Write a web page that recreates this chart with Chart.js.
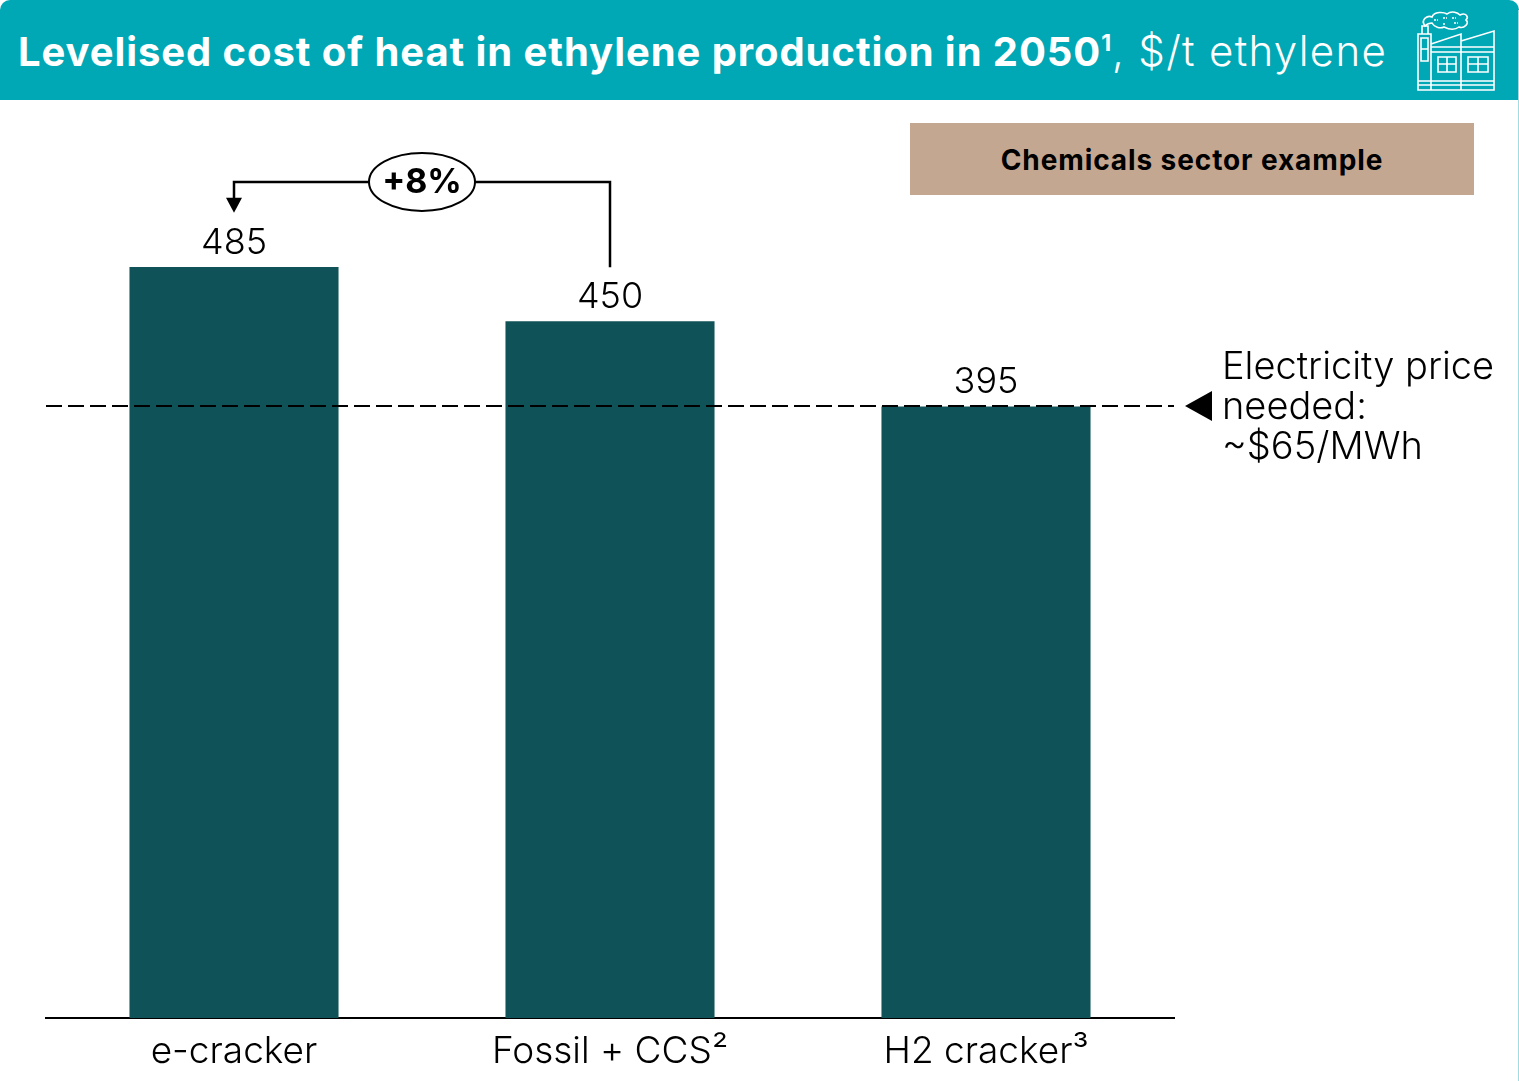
<!DOCTYPE html>
<html lang="en">
<head>
<meta charset="utf-8">
<title>Levelised cost of heat in ethylene production</title>
<script src="https://cdn.jsdelivr.net/npm/chart.js@4"></script>
<style>
    html, body { margin: 0; padding: 0; background: #fff; }
    body { width: 1519px; height: 1081px; position: relative; overflow: hidden; font-family: Inter, sans-serif; color: #000; }
    #chart { position: absolute; left: 0; top: 0; }
    #header { position: absolute; left: 0; top: 0; width: 1519px; height: 100px; background: #00a8b5; border-radius: 10px 10px 0 0; }
    #title { position: absolute; left: 18px; top: 24px; font-size: 42px; line-height: 54px; color: #fff; font-weight: 300; white-space: nowrap; letter-spacing: 1.3px; }
    #title b { font-weight: 700; font-size: 40px; letter-spacing: 0.92px; }
    #title sup { font-size: 23px; line-height: 0; vertical-align: 15px; }
    #icon { position: absolute; left: 1416px; top: 9px; }
    #tag { position: absolute; left: 910px; top: 123px; width: 564px; height: 72px; background: #c4a790; text-align: center; line-height: 75px; font-size: 28px; font-weight: 700; letter-spacing: 0.9px; }
    #note { position: absolute; left: 1222px; top: 345px; font-size: 38px; line-height: 40px; font-weight: 300; white-space: nowrap; }
    #edge { position: absolute; right: 0; top: 10px; width: 1px; height: 1071px; background: #9fdde2; }
</style>
</head>
<body>
<canvas id="chart" width="1519" height="1081"></canvas>
<div id="header">
    <div id="title"><b>Levelised cost of heat in ethylene production in 2050<sup>1</sup></b>, $/t ethylene</div>
    <svg id="icon" width="80" height="82" viewBox="0 0 80 82" fill="none" stroke="#fff" stroke-width="1.6">
        <path d="M2 25H15V81H2Z M15 35L45 25V81H15 M45 32L78 22V81H45 M15 38H78 M15 43H78 M2 72H78 M2 76H78"/>
        <path d="M5 29H12V52H5Z M5 40H12 M6 25V17H12V25"/>
        <path d="M22 48H40V63H22Z M31 48V63 M22 55H40 M52 48H72V63H52Z M62 48V63 M52 55H72"/>
        <path d="M9 17C4 10 12 6 16 8C18 2 28 3 31 5C36 1 42 4 44 6C50 3 53 8 50 11C54 14 48 20 43 18C38 22 32 20 28 18C24 20 18 18 16 14C13 14 11 15 9 17Z"/>
        <path d="M18 11H22 M27 9H31 M36 9H40 M27 15H30 M38 14H42" stroke-dasharray="2 1"/>
    </svg>
</div>
<div id="tag">Chemicals sector example</div>
<div id="note">Electricity price<br>needed:<br>~$65/MWh</div>
<div id="edge"></div>
<script>
// Datos del gráfico
const categories = ['e-cracker', 'Fossil + CCS²', 'H2 cracker³'];
const costs = [485, 450, 395];
const referenceLine = 395;
const compareLevel = 540;
const compareArrowTip = 520;
const compareLabel = '+8%';

const BAR_COLOR = '#0f5257';
const INK = '#000000';
const LIGHT_FONT = '300 36px Inter, sans-serif';

// Etiquetas, línea discontinua y flecha de comparación
const annotations = {
    id: 'annotations',
    afterDatasetsDraw(chart) {
        const { ctx, scales: { x, y }, chartArea } = chart;
        const px = i => x.getPixelForValue(i);

        ctx.save();
        ctx.fillStyle = INK;
        ctx.font = LIGHT_FONT;
        ctx.textAlign = 'center';
        ctx.textBaseline = 'alphabetic';
        costs.forEach((v, i) => ctx.fillText(String(v), px(i), y.getPixelForValue(v) - 13));

        // Línea discontinua
        const lineY = Math.round(y.getPixelForValue(referenceLine));
        ctx.strokeStyle = INK;
        ctx.lineWidth = 2;
        ctx.setLineDash([16, 6]);
        ctx.beginPath();
        ctx.moveTo(chartArea.left, lineY);
        ctx.lineTo(chartArea.right, lineY);
        ctx.stroke();
        ctx.setLineDash([]);

        // Triángulo de la línea
        ctx.beginPath();
        ctx.moveTo(chartArea.right + 11, lineY);
        ctx.lineTo(chartArea.right + 38, lineY - 15);
        ctx.lineTo(chartArea.right + 38, lineY + 15);
        ctx.closePath();
        ctx.fill();

        // Flecha de comparación
        const levelY = y.getPixelForValue(compareLevel);
        const tipY = y.getPixelForValue(compareArrowTip);
        ctx.lineWidth = 2.5;
        ctx.beginPath();
        ctx.moveTo(px(1), y.getPixelForValue(costs[1]) - 54);
        ctx.lineTo(px(1), levelY);
        ctx.lineTo(px(0), levelY);
        ctx.lineTo(px(0), tipY - 14);
        ctx.stroke();
        ctx.beginPath();
        ctx.moveTo(px(0), tipY);
        ctx.lineTo(px(0) - 8, tipY - 15);
        ctx.lineTo(px(0) + 8, tipY - 15);
        ctx.closePath();
        ctx.fill();

        // Óvalo con el porcentaje
        const ovalX = (px(0) + px(1)) / 2;
        ctx.lineWidth = 2;
        ctx.beginPath();
        ctx.ellipse(ovalX, levelY, 53, 29, 0, 0, Math.PI * 2);
        ctx.fillStyle = '#fff';
        ctx.fill();
        ctx.stroke();
        ctx.fillStyle = INK;
        ctx.font = '700 34px Inter, sans-serif';
        ctx.textBaseline = 'middle';
        ctx.fillText(compareLabel, ovalX, levelY + 1);
        ctx.restore();
    }
};

new Chart(document.getElementById('chart').getContext('2d'), {
    type: 'bar',
    data: {
        labels: categories,
        datasets: [{
            data: costs,
            backgroundColor: BAR_COLOR,
            categoryPercentage: 1,
            barPercentage: 0.556
        }]
    },
    options: {
        responsive: false,
        animation: false,
        layout: { padding: { left: 46, right: 345, top: 89, bottom: 0 } },
        plugins: { legend: { display: false }, tooltip: { enabled: false } },
        scales: {
            x: {
                afterFit: scale => { scale.height = 63; },
                grid: { display: false, drawTicks: false },
                border: { color: INK, width: 2 },
                ticks: { color: INK, padding: 12, maxRotation: 0, font: { family: 'Inter, sans-serif', size: 37, weight: '300' } }
            },
            y: { display: false, min: 0, max: 600 }
        }
    },
    plugins: [annotations]
});
</script>
</body>
</html>
